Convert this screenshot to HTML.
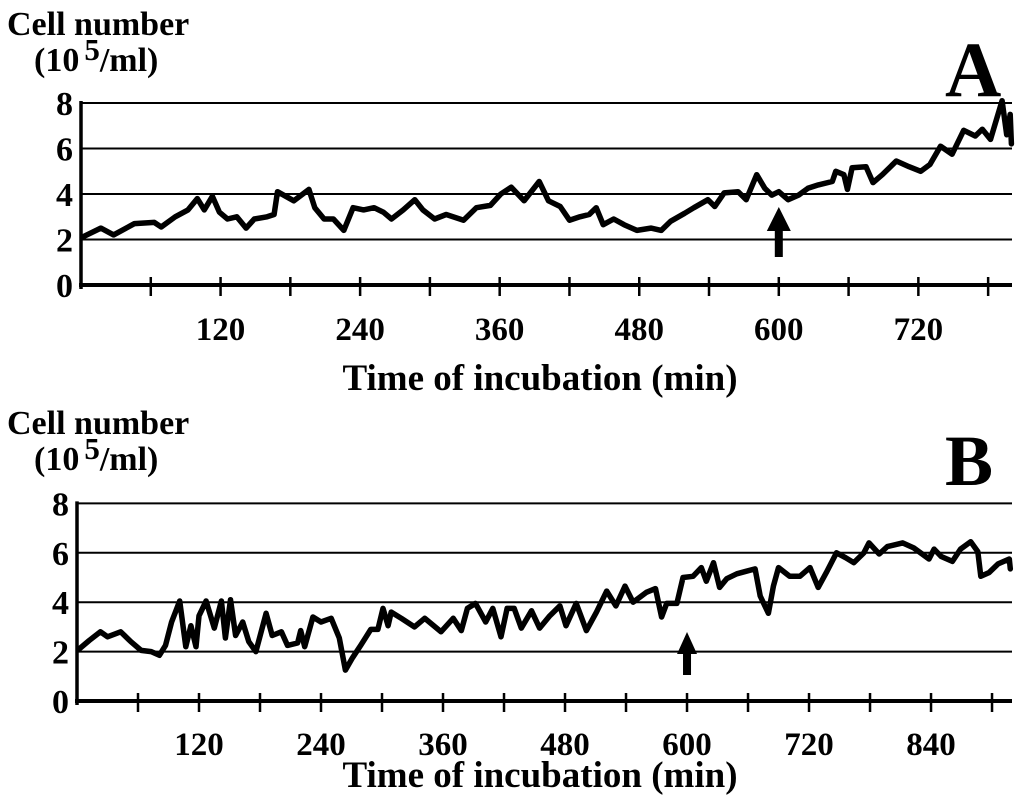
<!DOCTYPE html>
<html><head><meta charset="utf-8"><style>
html,body{margin:0;padding:0;background:#fff;}
svg{display:block;font-family:"Liberation Serif",serif;font-weight:bold;}
</style></head><body>
<svg id="chart" width="1024" height="799" viewBox="0 0 1024 799">
<g id="pa"></g>
<g id="pb"></g>
</svg>
<script>
const yTicks = [0,2,4,6,8];
const xTicksA = [120,240,360,480,600,720];
const xTicksB = [120,240,360,480,600,720,840];
const timeA = [1,17,28,46,63,69,81,92,100,106,113,119,126,134,142,149,160,166,169,183,196,201,209,217,226,234,243,252,260,267,277,287,294,304,314,329,340,352,361,370,381,394,402,412,420,429,437,443,449,458,467,478,490,499,507,519,527,539,545,553,565,572,581,588,594,600,608,617,625,634,646,649,656,659,663,675,681,689,701,712,722,730,739,749,759,769,775,782,792,796,799,800];
const cellsA = [2.1,2.5,2.2,2.7,2.75,2.55,3.0,3.3,3.8,3.3,3.9,3.2,2.9,3.0,2.5,2.9,3.0,3.1,4.1,3.7,4.2,3.4,2.9,2.9,2.4,3.4,3.3,3.4,3.2,2.9,3.3,3.75,3.3,2.9,3.1,2.85,3.4,3.5,4.0,4.3,3.7,4.55,3.7,3.45,2.85,3.0,3.1,3.4,2.65,2.9,2.65,2.4,2.5,2.4,2.8,3.15,3.4,3.75,3.45,4.05,4.1,3.75,4.85,4.25,3.95,4.1,3.75,3.95,4.25,4.4,4.55,5.0,4.85,4.2,5.15,5.2,4.5,4.85,5.45,5.2,5.0,5.3,6.1,5.75,6.8,6.55,6.85,6.4,8.1,6.6,7.5,6.2];
const timeB = [2,12,23,30,43,53,63,73,81,87,93,101,107,112,117,120,127,135,142,146,151,156,163,169,176,186,192,201,207,217,220,224,232,240,250,258,264,271,279,289,296,301,306,309,319,332,342,358,370,378,384,392,402,409,417,423,430,437,447,455,465,475,481,491,501,511,521,530,539,547,560,569,575,580,590,596,606,614,619,626,632,639,649,658,667,672,680,685,690,701,711,721,729,737,747,756,764,774,779,789,797,812,823,838,843,850,861,869,879,886,889,897,906,917,918];
const cellsB = [2.1,2.45,2.8,2.6,2.8,2.4,2.05,2.0,1.85,2.25,3.2,4.05,2.2,3.05,2.2,3.45,4.05,2.95,4.05,2.55,4.1,2.65,3.2,2.4,2.0,3.55,2.65,2.8,2.25,2.35,2.85,2.2,3.4,3.2,3.35,2.55,1.25,1.75,2.25,2.9,2.9,3.75,3.05,3.6,3.35,3.0,3.35,2.8,3.35,2.85,3.75,3.95,3.2,3.75,2.6,3.75,3.75,2.95,3.65,2.95,3.45,3.85,3.05,3.95,2.85,3.6,4.45,3.85,4.65,4.0,4.4,4.55,3.4,3.95,3.95,5.0,5.05,5.4,4.85,5.6,4.6,4.95,5.15,5.25,5.35,4.25,3.55,4.65,5.4,5.05,5.05,5.4,4.6,5.2,6.0,5.8,5.6,6.0,6.4,5.95,6.25,6.4,6.2,5.75,6.15,5.85,5.65,6.15,6.45,6.05,5.05,5.2,5.55,5.75,5.35];
const arrowTime = 600;

const NS = "http://www.w3.org/2000/svg";
function mk(parent, tag, attrs, text){
  const e = document.createElementNS(NS, tag);
  for (const k in attrs) e.setAttribute(k, attrs[k]);
  if (text !== undefined) e.textContent = text;
  parent.appendChild(e);
  return e;
}
function panel(g, cfg){
  const xs = t => cfg.x0 + t*cfg.kx;
  const ys = v => cfg.y0 - v*cfg.ky;
  let t1 = mk(g,'text',{x:7,y:cfg.lab1,'font-size':34},'Cell number');
  
  
  let t2 = mk(g,'text',{x:34,y:cfg.lab1+36,'font-size':34},'(10');
  
  
  mk(t2,'tspan',{dx:5,dy:-11,'font-size':31},'5');
  mk(t2,'tspan',{dy:11},'/ml)');
  let pl = mk(g,'text',{x:cfg.letterX,y:cfg.letterY,'font-size':cfg.letterSize},cfg.letter);
  
  
  yTicks.forEach(v=>{
    if (v>0){
      const l = mk(g,'line',{x1:cfg.x0,x2:cfg.xEnd,y1:ys(v),y2:ys(v),stroke:'#000','stroke-width':2});
      
      
    }
    const tl = mk(g,'text',{x:cfg.x0-8,y:ys(v)+12,'font-size':34,'text-anchor':'end'},String(v));
    
    
  });
  const ya = mk(g,'line',{x1:cfg.x0,x2:cfg.x0,y1:ys(8)-2,y2:cfg.y0+4,stroke:'#000','stroke-width':3.5});
  
  
  const xa = mk(g,'line',{x1:cfg.x0-2,x2:cfg.xEnd,y1:cfg.y0,y2:cfg.y0,stroke:'#000','stroke-width':4});
  
  
  for (let t=60; xs(t)<cfg.xEnd-3; t+=60){
    const tk = mk(g,'line',{x1:xs(t),x2:xs(t),y1:cfg.y0-8,y2:cfg.y0+11,stroke:'#000','stroke-width':2.5});
    
    
  }
  cfg.xt.forEach(t=>{
    const tl = mk(g,'text',{x:xs(t),y:cfg.y0+cfg.tickDy,'font-size':33,'text-anchor':'middle'},String(t));
    
    
  });
  const xt = mk(g,'text',{x:540,y:cfg.y0+cfg.titleDy,'font-size':37,'text-anchor':'middle'},'Time of incubation (min)');
  
  
  const d = cfg.t.map((t,i)=>(i?'L':'M')+xs(t).toFixed(1)+' '+ys(cfg.v[i]).toFixed(1)).join(' ');
  const p = mk(g,'path',{d:d,fill:'none',stroke:'#000','stroke-width':5.5,'stroke-linejoin':'round','stroke-linecap':'round'});
  
  
  const ax = xs(arrowTime);
  const ag = mk(g,'g',{});
  
  
  mk(ag,'polygon',{points:`${ax},${cfg.arTip} ${ax-cfg.aw},${cfg.arHead} ${ax+cfg.aw},${cfg.arHead}`,fill:'#000'});
  mk(ag,'rect',{x:ax-4,y:cfg.arHead-1,width:8,height:cfg.arBase-cfg.arHead+1,fill:'#000'});
}
panel(document.getElementById('pa'),{x0:81,kx:1.163,y0:285,ky:22.75,xEnd:1012,xt:xTicksA,t:timeA,v:cellsA,
  lab1:35,letter:'A',letterX:945,letterY:96,letterSize:78,arTip:207,arHead:231,arBase:257,aw:12,tickDy:55,titleDy:105});
panel(document.getElementById('pb'),{x0:77,kx:1.0167,y0:701,ky:24.7,xEnd:1012,xt:xTicksB,t:timeB,v:cellsB,
  lab1:434,letter:'B',letterX:945,letterY:485,letterSize:72,arTip:632,arHead:654,arBase:675,aw:10,tickDy:54,titleDy:86});
</script>
</body></html>
